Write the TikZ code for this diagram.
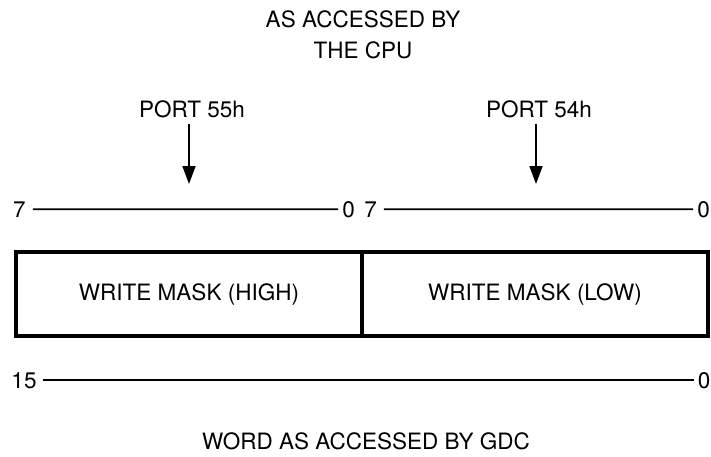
\documentclass[tikz,border=0pt]{standalone}
\usepackage{fontspec}
\setmainfont{TeX Gyre Heros}
\usetikzlibrary{arrows.meta}
\begin{document}
\begin{tikzpicture}[x=1pt,y=-1pt,font=\fontsize{22.5}{26}\selectfont,
  lbl/.style={inner sep=0pt,anchor=base},
  bitline/.style={line width=1.8pt},
  maskbox/.style={draw,line width=3.8pt,minimum width=346pt,minimum height=84pt,inner sep=0pt}]
\useasboundingbox (0,0) rectangle (711,456);
% heading
\node[lbl] (hd1) at (363,27) {AS ACCESSED BY};
\node[lbl] (hd2) at (363,58) {THE CPU};
% ports
\node[lbl] (p55) at (192,117) {PORT 55h};
\node[lbl] (p54) at (539,117) {PORT 54h};
\coordinate (a55) at (189,184);
\coordinate (a54) at (536,184);
\draw[bitline,-{Triangle[length=18pt,width=13pt]}] ([xshift=-3pt,yshift=-6pt]p55.south) -- (a55);
\draw[bitline,-{Triangle[length=18pt,width=13pt]}] ([xshift=-3pt,yshift=-6pt]p54.south) -- (a54);
% byte bits
\node[lbl] (h7) at (19.5,217) {7};
\node[lbl] (h0) at (348.5,217) {0};
\node[lbl] (l7) at (370.5,217) {7};
\node[lbl] (l0) at (703.5,217) {0};
\draw[bitline] ([xshift=7pt]h7.east) -- ([xshift=-4pt]h0.west);
\draw[bitline] ([xshift=7pt]l7.east) -- ([xshift=-4pt]l0.west);
% the register
\node[maskbox] (hi) at (189,294) {WRITE MASK (HIGH)};
\node[maskbox] (lo) at (535,294) {WRITE MASK (LOW)};
% word bits
\node[lbl] (w15) at (24,388) {15};
\node[lbl] (w0) at (704,388) {0};
\draw[bitline] ([xshift=6pt]w15.east) -- ([xshift=-4pt]w0.west);
\node[lbl] (ft) at (366,449) {WORD AS ACCESSED BY GDC};
\end{tikzpicture}
\end{document}
